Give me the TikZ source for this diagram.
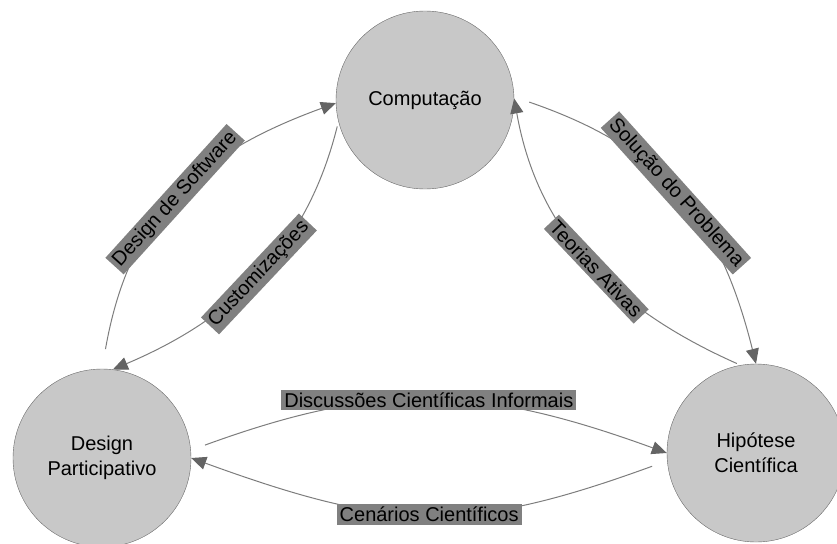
\documentclass[tikz,border=0pt]{standalone}
\usepackage{fontspec}
\setmainfont{Liberation Sans}
\usetikzlibrary{arrows.meta}
\definecolor{circfill}{RGB}{200,200,200}
\definecolor{circline}{RGB}{105,105,105}
\definecolor{boxfill}{RGB}{128,128,128}
\definecolor{flowline}{RGB}{125,125,125}
\definecolor{tipfill}{RGB}{100,100,100}
\tikzset{
  concept/.style={circle, draw=circline, fill=circfill, minimum size=178pt,
    inner sep=0pt, align=center, font=\fontsize{20}{25}\selectfont},
  relbox/.style={fill=boxfill, inner sep=3pt,
    font=\fontsize{20}{22}\selectfont},
  flow/.style={draw=flowline, line width=1pt,
    -{Triangle[length=15pt,width=13pt,color=tipfill]}},
}
\begin{document}
\begin{tikzpicture}[x=1pt,y=-1pt]
    \useasboundingbox (0,0) rectangle (837,543);
    %% the three concepts
    \node[concept] (comp) at (425,100) {Computação};
    \node[concept] (dp)   at (102,458) {Design\\Participativo};
    \node[concept] (hip)  at (756,453) {Hipótese\\Científica};
    %% design participativo <-> computacao
    \draw[flow, shorten <=20pt] (dp.90) to[out=80,in=200,looseness=1.1]
        node[relbox, sloped] {Design de Software} (comp.182);
    \draw[flow, shorten <=5pt] (comp.194) to[out=256,in=23]
        node[relbox, sloped] {Customizações} (dp.83);
    %% computacao <-> hipotese
    \draw[flow, shorten <=16pt] (comp.2) to[out=-19,in=104,looseness=1.1]
        node[relbox, sloped] {Solução do Problema} (hip.90);
    \draw[flow, shorten <=4pt] (hip.100) to[out=156,in=280]
        node[relbox, sloped, pos=0.47] {Teorias Ativas} (comp.1);
    %% design participativo <-> hipotese
    \draw[flow, shorten <=15pt] (dp.5) to[out=20,in=160,looseness=1.08]
        node[relbox] {Discussões Científicas Informais} (hip.180);
    \draw[flow, shorten <=16pt] (hip.185) to[out=200,in=340,looseness=1.15]
        node[relbox] {Cenários Científicos} (dp.0);
\end{tikzpicture}
\end{document}
